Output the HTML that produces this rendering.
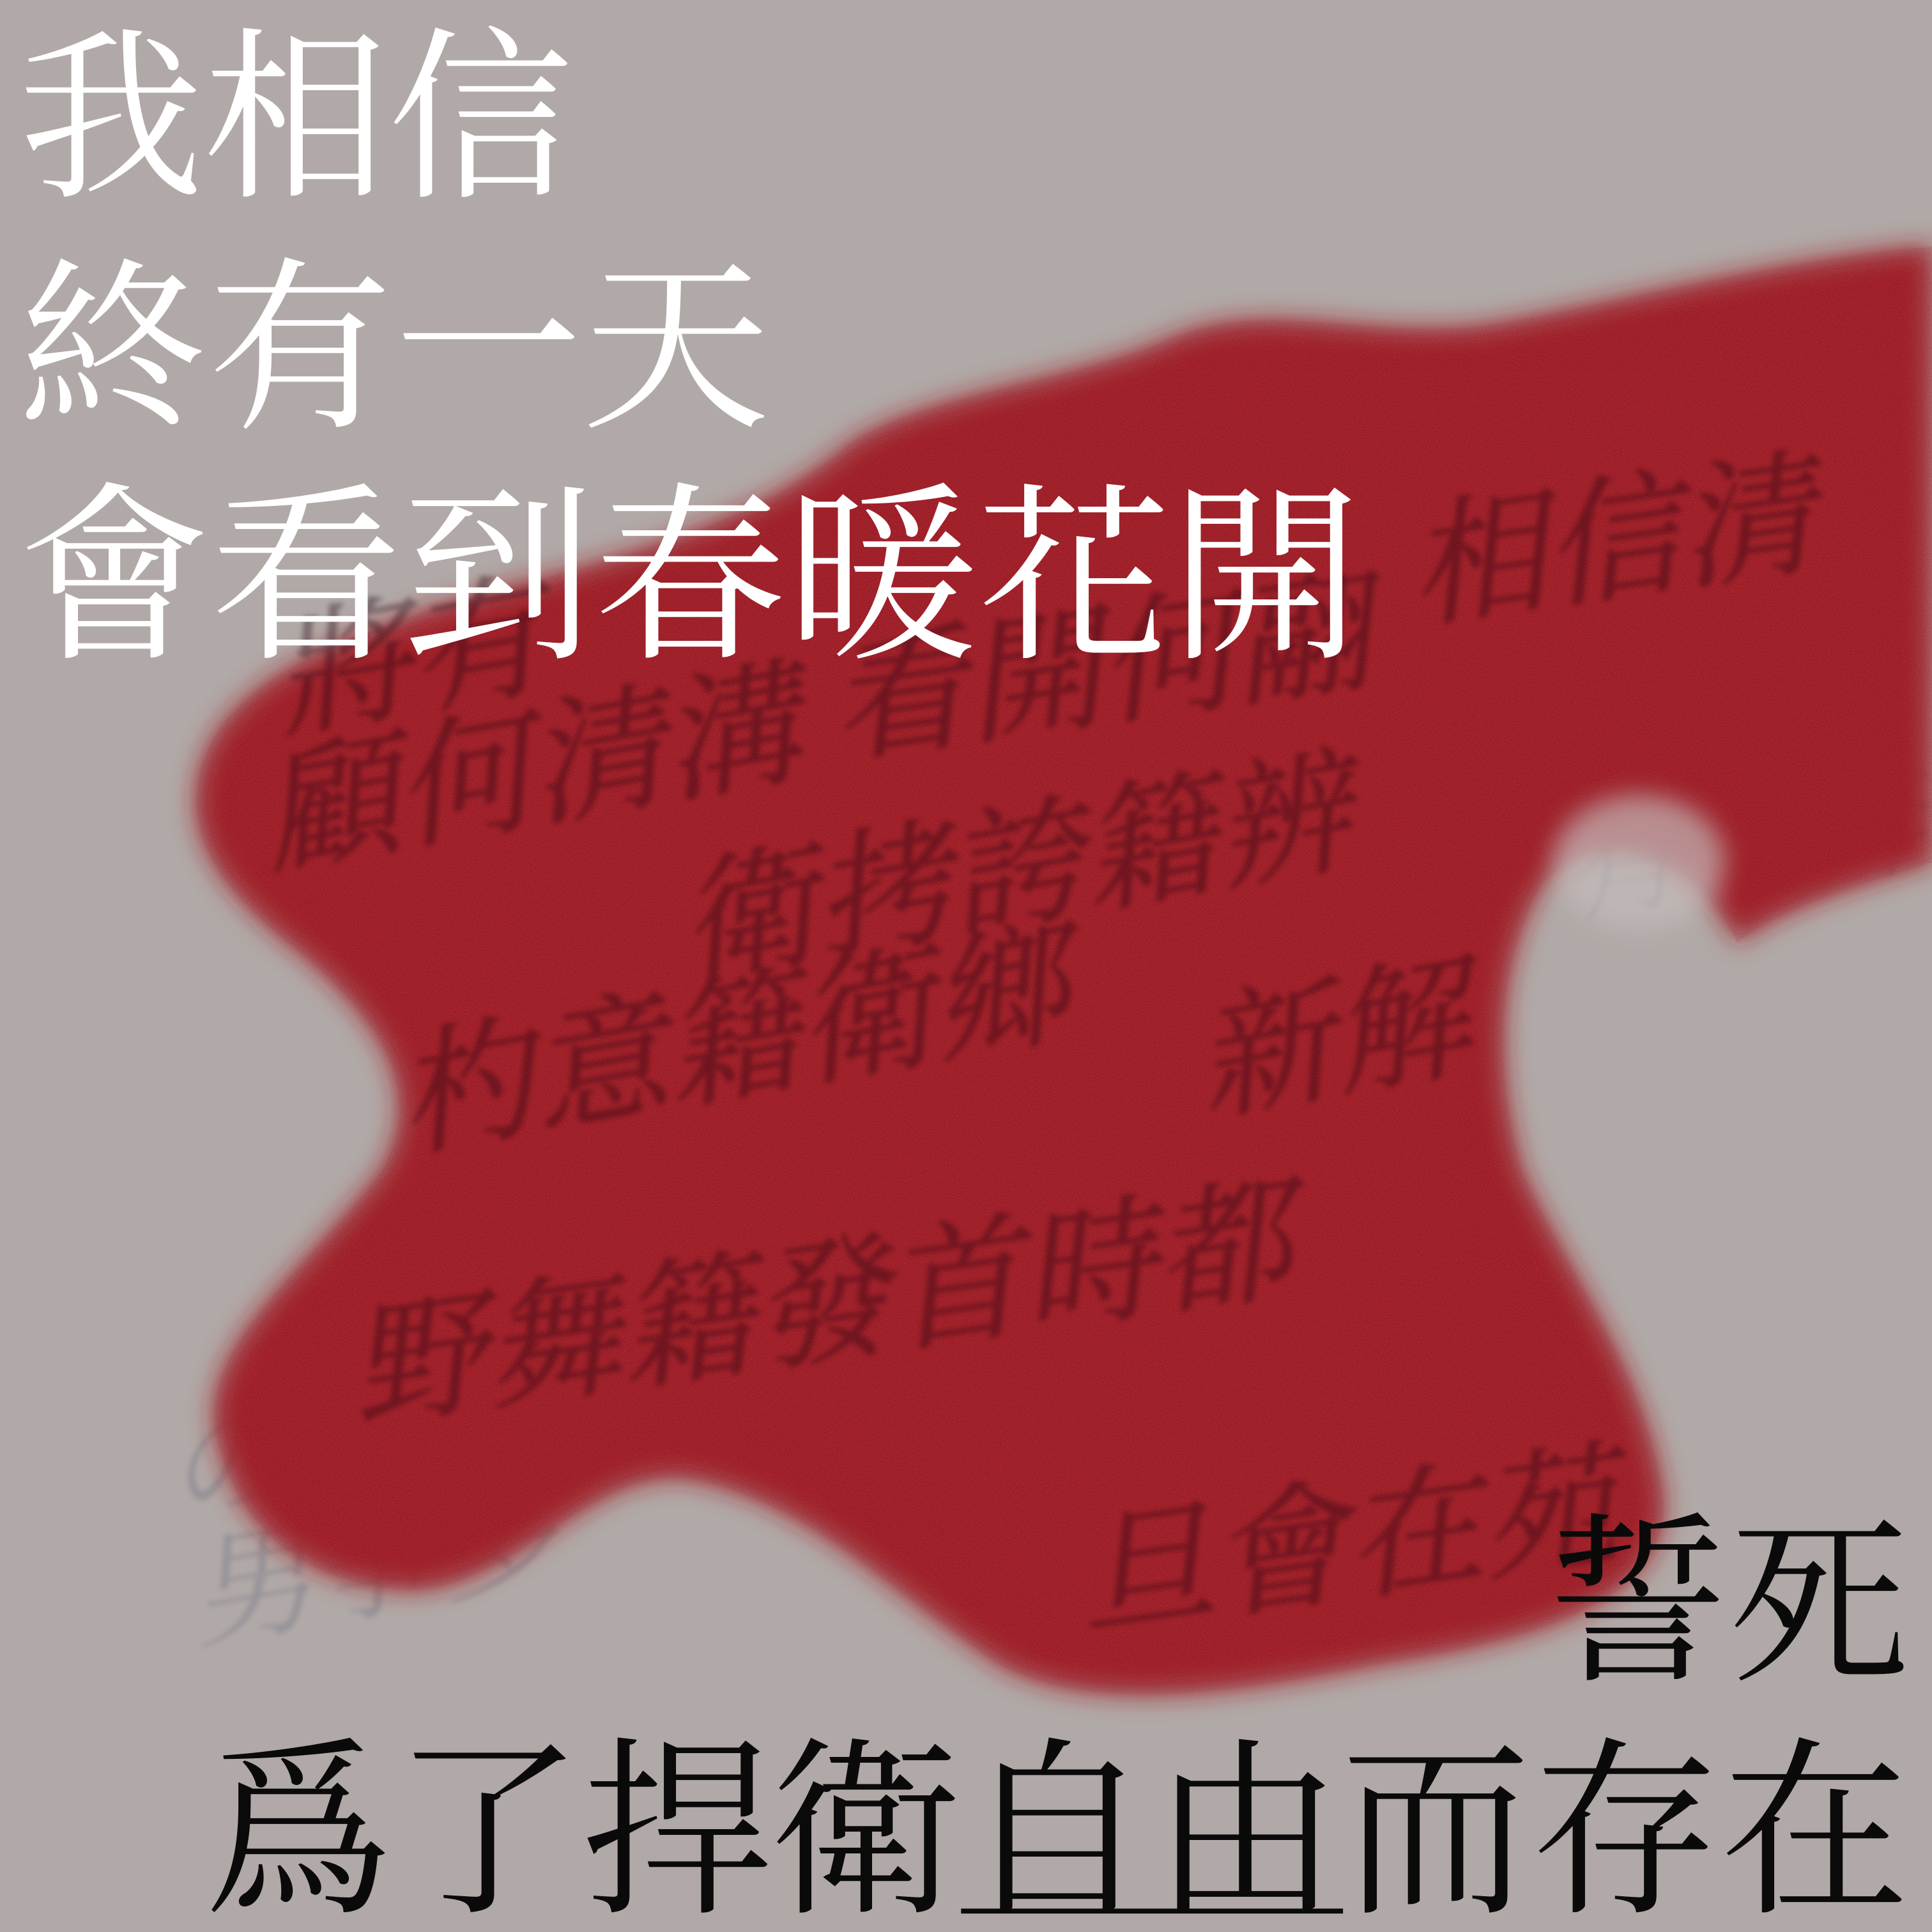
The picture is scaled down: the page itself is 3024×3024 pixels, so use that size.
<!DOCTYPE html>
<html><head><meta charset="utf-8">
<style>
html,body{margin:0;padding:0;background:#b1a9a7;}
svg{display:block;}
.cjk{font-family:"Liberation Serif","Noto Serif CJK TC","Noto Serif CJK SC",serif;}
</style></head>
<body>
<svg width="3024" height="3024" viewBox="0 0 1568 1568" xmlns="http://www.w3.org/2000/svg">
<defs>
<filter id="blur" x="-20%" y="-20%" width="140%" height="140%"><feGaussianBlur stdDeviation="10"/></filter>
<filter id="soft"><feGaussianBlur stdDeviation="2"/></filter>
<filter id="grain" x="0" y="0" width="100%" height="100%">
<feTurbulence type="fractalNoise" baseFrequency="1.4" numOctaves="2" seed="3"/>
<feColorMatrix type="matrix" values="0 0 0 0 0.75  0 0 0 0 0.2  0 0 0 0 0.22  0 0 0 1.8 -0.6"/>
</filter>
<filter id="grain2" x="0" y="0" width="100%" height="100%">
<feTurbulence type="fractalNoise" baseFrequency="1.7" numOctaves="2" seed="9"/>
<feColorMatrix type="matrix" values="0 0 0 0 0.1  0 0 0 0 0  0 0 0 0 0.02  0 0 0 1.8 -0.6"/>
</filter>
<clipPath id="blobclip"><path id="blobpath" d="M160,640 C170,560 260,520 400,480 C520,450 620,420 690,360 C750,320 870,310 950,275 C1030,240 1120,280 1220,262 C1330,242 1450,210 1568,200 L1568,700 C1500,720 1440,740 1410,765 C1380,700 1300,660 1250,720 C1210,790 1215,880 1235,950 C1270,1030 1340,1120 1350,1220 C1350,1300 1250,1330 1120,1350 C1000,1375 880,1390 810,1350 C720,1290 660,1220 560,1200 C480,1190 430,1280 340,1290 C250,1290 190,1240 175,1160 C165,1090 250,1030 310,950 C350,880 300,820 240,770 C190,730 155,690 160,640 Z"/></clipPath>
</defs>
<rect width="1568" height="1568" fill="#b1a9a7"/>
<g class="cjk" fill="#4a5670" opacity="0.25" font-size="100" font-style="italic" filter="url(#soft)">
<text x="140" y="1230" transform="rotate(-10 140 1230)">の家所覇</text>
<text x="160" y="1330" transform="rotate(-10 160 1330)">男争多</text>
<text x="1270" y="740" transform="rotate(-8 1270 740)">有一奔</text>
</g>
<g>
<use href="#blobpath" fill="#a21d20" filter="url(#blur)"/>
<g clip-path="url(#blobclip)">
<rect x="0" y="0" width="1568" height="1568" filter="url(#grain)" opacity="0.35"/>
<rect x="0" y="0" width="1568" height="1568" filter="url(#grain2)" opacity="0.35"/>
</g>
<ellipse cx="1330" cy="700" rx="70" ry="55" fill="#c4bcbb" filter="url(#blur)" opacity="0.7"/>
</g>
<g class="cjk" fill="#1e0608" stroke="#1e0608" stroke-width="1" opacity="0.35" filter="url(#soft)" font-size="110" font-style="italic">
<text x="220" y="700" transform="rotate(-10 220 700)">顧何清溝</text>
<text x="560" y="790" transform="rotate(-10 560 790)">衛拷誇籍辨</text>
<text x="330" y="930" transform="rotate(-10 330 930)">杓意籍衛鄉</text>
<text x="290" y="1150" transform="rotate(-8 290 1150)">野舞籍發首時都</text>
<text x="680" y="610" transform="rotate(-8 680 610)">看開何翮</text>
<text x="1150" y="500" transform="rotate(-8 1150 500)">相信清</text>
<text x="880" y="1320" transform="rotate(-8 880 1320)">旦會在苑</text>
<text x="980" y="900" transform="rotate(-10 980 900)">新解</text>
<text x="230" y="590" transform="rotate(-10 230 590)">將有</text>
</g>
<g class="cjk" fill="#ffffff">
<text x="15" y="148" font-size="150" textLength="450" lengthAdjust="spacingAndGlyphs">我相信</text>
<text x="15" y="335" font-size="150" textLength="610" lengthAdjust="spacingAndGlyphs">終有一天</text>
<text x="15" y="522" font-size="155" textLength="1090" lengthAdjust="spacingAndGlyphs">會看到春暖花開</text>
</g>
<g class="cjk" fill="#0a0a0a">
<text x="1255" y="1352" font-size="148" textLength="295" lengthAdjust="spacingAndGlyphs">誓死</text>
<text x="165" y="1540" font-size="155" textLength="1385" lengthAdjust="spacingAndGlyphs">爲了捍衛自由而存在</text>
<line x1="780" y1="1551" x2="1090" y2="1551" stroke="#0a0a0a" stroke-width="4"/>
</g>
</svg>
</body></html>
